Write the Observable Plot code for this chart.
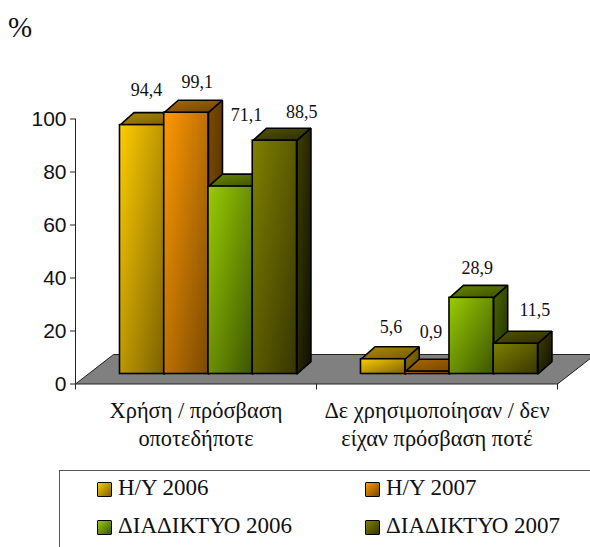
<!DOCTYPE html>
<html><head><meta charset="utf-8">
<script src="https://cdn.jsdelivr.net/npm/d3@7"></script>
<script src="https://cdn.jsdelivr.net/npm/@observablehq/plot@0.6"></script>
<style>
html,body{margin:0;padding:0;background:#fff;width:590px;height:547px;overflow:hidden}
#title{height:45px;font:29px/30px "Liberation Serif",serif;padding-left:8px;box-sizing:border-box;padding-top:12px;color:#111}
#chart svg{display:block}
#chart{height:425px}
#legend{position:relative;height:77px;margin-left:59px;border-left:1px solid #555;border-top:1px solid #555;font:23px "Liberation Serif",serif;color:#111}
.item{position:absolute;white-space:nowrap;line-height:22px}
.sw{position:absolute;width:13px;height:13px;border:1.5px solid #000;border-radius:1px;top:5px;left:-21px}
</style></head><body>
<div id="title">%</div>
<div id="chart"></div>
<div id="legend"></div>
<script>
const categories = ["Χρήση / πρόσβαση\nοποτεδήποτε", "Δε χρησιμοποίησαν / δεν\nείχαν πρόσβαση ποτέ"];
const seriesNames = ["Η/Υ 2006", "Η/Υ 2007", "ΔΙΑΔΙΚΤΥΟ 2006", "ΔΙΑΔΙΚΤΥΟ 2007"];
const hy2006 = [94.4, 5.6];
const hy2007 = [99.1, 0.9];
const net2006 = [71.1, 28.9];
const net2007 = [88.5, 11.5];
const seriesValues = [hy2006, hy2007, net2006, net2007];
const valueLabels = [["94,4","5,6"],["99,1","0,9"],["71,1","28,9"],["88,5","11,5"]];
const yTicks = [0, 20, 40, 60, 80, 100];

// styles: [front from, front to, top from, top to, side from, side to]
const faceColors = [
  ["#ffcc00","#7a6200","#b08c00","#6f5900","#8f7300","#5a4800"],
  ["#ff9900","#7a4a00","#ad6800","#6e4300","#7d4c00","#452a00"],
  ["#99cc00","#3d5500","#668800","#3a4f00","#4a6600","#1f2c00"],
  ["#808000","#363600","#555500","#2b2b00","#3f3f00","#0f0f00"]
];
// label shifts from the bar's front-top centre, px
const labelShift = [
  [[4.4,-35],[7.8,-32]],
  [[11,-30],[3.7,-39.3]],
  [[16,-71],[5.6,-30]],
  [[27,-28.7],[19,-33]]
];
// layout in scale units
const floorDepth = [0.1577, 11.13];
const barDepth = [0.058, 4.7];
const plane = [0.0, 3.77];
const barStart = 0.1846, barWidth = 0.1836, yShrink = 0.995;

const closed = pts => pts.concat([pts[0]]);
const poly = (pts, fill, extra = {}) => Plot.line(closed(pts), {x: d => d[0], y: d => d[1], fill, stroke: "#000", strokeWidth: 1.6, strokeLinejoin: "miter", curve: "linear", ...extra});

const marks = [];
// floor
marks.push(poly([[0,0],[2,0],[2+floorDepth[0],floorDepth[1]],[floorDepth[0],floorDepth[1]]], "#808080", {strokeWidth: 1, stroke:"#222"}));
categories.forEach((c, g) => {
  seriesValues.forEach((vals, s) => {
    const x0 = g + barStart + s * barWidth, x1 = x0 + barWidth;
    const b = plane[1], t = vals[g] * yShrink + plane[1];
    const [ddx, ddy] = barDepth;
    marks.push(poly([[x0,t],[x1,t],[x1+ddx,t+ddy],[x0+ddx,t+ddy]], `url(#g${s}t)`));
    marks.push(poly([[x1,b],[x1+ddx,b+ddy],[x1+ddx,t+ddy],[x1,t]], `url(#g${s}s)`));
    marks.push(Plot.rect([0], {x1: x0, x2: x1, y1: b, y2: t, fill: `url(#g${s}f)`, stroke: "#000", strokeWidth: 1.6}));
    marks.push(Plot.text([valueLabels[s][g]], {x: (x0+x1)/2, y: t, text: d => d, dx: labelShift[s][g][0], dy: labelShift[s][g][1], fontSize: 18, fontFamily: "Liberation Serif", fill: "#111", textAnchor: "middle"}));
  });
});

const svg = Plot.plot({
  width: 590, height: 425,
  marginLeft: 75, marginRight: 33, marginTop: 73.5, marginBottom: 86.5,
  x: {domain: [0, 2], axis: null},
  y: {domain: [0, 100], axis: null},
  style: {background: "transparent", overflow: "hidden"},
  marks: [
    ...marks,
    Plot.ruleX([0], {y1: 0, y2: 100, stroke: "#222", strokeWidth: 1}),
    Plot.axisY({ticks: yTicks, tickSize: 5, tickPadding: 4, fontSize: 21, fontFamily: "Liberation Sans", label: null, stroke:"#222", fill:"#111"}),
    Plot.axisX({ticks: [0, 1, 2], tickSize: 6, tickFormat: () => "", label: null, stroke:"#222"}),
    Plot.text(categories, {x: (d, i) => i + 0.5, y: 0, text: d => d, dy: 14, lineAnchor: "top", lineHeight: 1.25, fontSize: 22.4, fontFamily: "Liberation Serif", fill: "#111", textAnchor: "middle"})
  ]
});
const defs = d3.select(svg).insert("defs", ":first-child");
faceColors.forEach((c, s) => {
  ["f","t","s"].forEach((k, i) => {
    const g = defs.append("linearGradient").attr("id", `g${s}${k}`).attr("x1", 0).attr("y1", 0).attr("x2", 1).attr("y2", 1);
    g.append("stop").attr("offset", 0).attr("stop-color", c[i*2]);
    g.append("stop").attr("offset", 1).attr("stop-color", c[i*2+1]);
  });
});
document.getElementById("chart").appendChild(svg);

const legend = document.getElementById("legend");
const pos = [[58,6],[326,6],[58,44],[326,44]];
seriesNames.forEach((n, i) => {
  const d = document.createElement("div");
  d.className = "item";
  d.style.left = pos[i][0] + "px"; d.style.top = pos[i][1] + "px";
  d.textContent = n;
  const sw = document.createElement("span");
  sw.className = "sw";
  sw.style.background = `linear-gradient(135deg, ${faceColors[i][0]}, ${faceColors[i][1]})`;
  d.appendChild(sw);
  legend.appendChild(d);
});
</script>
</body></html>
